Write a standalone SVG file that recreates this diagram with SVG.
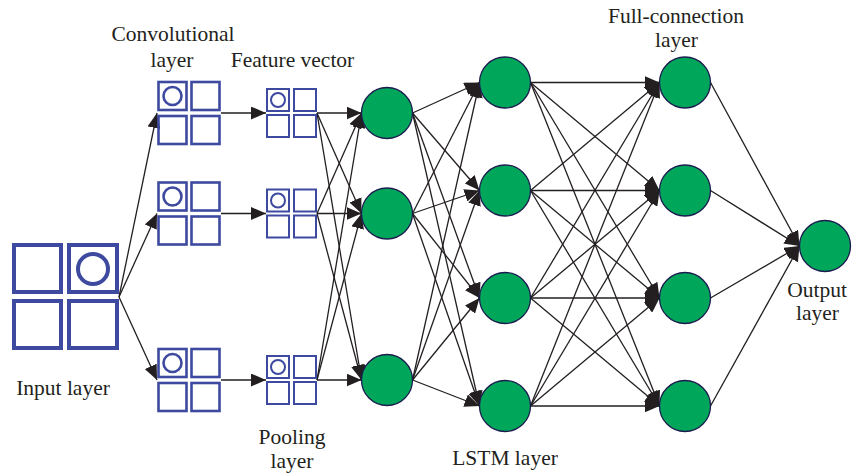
<svg xmlns="http://www.w3.org/2000/svg" width="852" height="475" viewBox="0 0 852 475">
<defs>
<style>
.cell{fill:none;stroke:#3d4a9f}
.big{stroke-width:4}
.conv{stroke-width:2.6}
.feat{stroke-width:2}
.node{fill:#00a75a;stroke:#1b1d4f;stroke-width:1.3}
.e{stroke:#231f20;stroke-width:1.3;fill:none;marker-end:url(#ah)}
.t{font-family:"Liberation Serif","Times New Roman",serif;font-size:21.5px;fill:#231f20;text-anchor:middle}
</style>
<marker id="ah" markerUnits="userSpaceOnUse" markerWidth="16" markerHeight="13" refX="15" refY="6.5" orient="auto">
<path d="M0,0 L15,6.5 L0,13 z" fill="#231f20"/>
</marker>
<g id="convcell">
<rect class="cell conv" x="-14.5" y="-31" width="28" height="28"/>
<rect class="cell conv" x="18.5" y="-31" width="28" height="28"/>
<rect class="cell conv" x="-14.5" y="3" width="28" height="28"/>
<rect class="cell conv" x="18.5" y="3" width="28" height="28"/>
<circle class="cell conv" cx="-0.5" cy="-17" r="9"/>
</g>
<g id="featcell">
<rect class="cell feat" x="0" y="-24" width="22" height="22"/>
<rect class="cell feat" x="27" y="-24" width="22" height="22"/>
<rect class="cell feat" x="0" y="2" width="22" height="22"/>
<rect class="cell feat" x="27" y="2" width="22" height="22"/>
<circle class="cell feat" cx="11" cy="-13" r="7"/>
</g>
</defs>
<rect width="852" height="475" fill="#ffffff"/>

<g id="connectors">
<line class="e" x1="119" y1="297" x2="157" y2="113"/>
<line class="e" x1="119" y1="297" x2="157" y2="213.5"/>
<line class="e" x1="119" y1="297" x2="157" y2="380"/>
<line class="e" x1="221" y1="113" x2="266" y2="113"/>
<line class="e" x1="221" y1="213.5" x2="266" y2="213.5"/>
<line class="e" x1="221" y1="380" x2="266" y2="380"/>
<line class="e" x1="317" y1="113" x2="361.5" y2="113"/>
<line class="e" x1="317" y1="113" x2="361.5" y2="213.5"/>
<line class="e" x1="317" y1="113" x2="361.5" y2="380"/>
<line class="e" x1="317" y1="213.5" x2="361.5" y2="113"/>
<line class="e" x1="317" y1="213.5" x2="361.5" y2="213.5"/>
<line class="e" x1="317" y1="213.5" x2="361.5" y2="380"/>
<line class="e" x1="317" y1="380" x2="361.5" y2="113"/>
<line class="e" x1="317" y1="380" x2="361.5" y2="213.5"/>
<line class="e" x1="317" y1="380" x2="361.5" y2="380"/>
<line class="e" x1="412.5" y1="113" x2="479.5" y2="82.5"/>
<line class="e" x1="412.5" y1="113" x2="479.5" y2="190.5"/>
<line class="e" x1="412.5" y1="113" x2="479.5" y2="298"/>
<line class="e" x1="412.5" y1="113" x2="479.5" y2="406"/>
<line class="e" x1="412.5" y1="213.5" x2="479.5" y2="82.5"/>
<line class="e" x1="412.5" y1="213.5" x2="479.5" y2="190.5"/>
<line class="e" x1="412.5" y1="213.5" x2="479.5" y2="298"/>
<line class="e" x1="412.5" y1="213.5" x2="479.5" y2="406"/>
<line class="e" x1="412.5" y1="380" x2="479.5" y2="82.5"/>
<line class="e" x1="412.5" y1="380" x2="479.5" y2="190.5"/>
<line class="e" x1="412.5" y1="380" x2="479.5" y2="298"/>
<line class="e" x1="412.5" y1="380" x2="479.5" y2="406"/>
<line class="e" x1="530.5" y1="82.5" x2="659.5" y2="82.5"/>
<line class="e" x1="530.5" y1="82.5" x2="659.5" y2="190.5"/>
<line class="e" x1="530.5" y1="82.5" x2="659.5" y2="298"/>
<line class="e" x1="530.5" y1="82.5" x2="659.5" y2="406"/>
<line class="e" x1="530.5" y1="190.5" x2="659.5" y2="82.5"/>
<line class="e" x1="530.5" y1="190.5" x2="659.5" y2="190.5"/>
<line class="e" x1="530.5" y1="190.5" x2="659.5" y2="298"/>
<line class="e" x1="530.5" y1="190.5" x2="659.5" y2="406"/>
<line class="e" x1="530.5" y1="298" x2="659.5" y2="82.5"/>
<line class="e" x1="530.5" y1="298" x2="659.5" y2="190.5"/>
<line class="e" x1="530.5" y1="298" x2="659.5" y2="298"/>
<line class="e" x1="530.5" y1="298" x2="659.5" y2="406"/>
<line class="e" x1="530.5" y1="406" x2="659.5" y2="82.5"/>
<line class="e" x1="530.5" y1="406" x2="659.5" y2="190.5"/>
<line class="e" x1="530.5" y1="406" x2="659.5" y2="298"/>
<line class="e" x1="530.5" y1="406" x2="659.5" y2="406"/>
<line class="e" x1="710.5" y1="82.5" x2="799.5" y2="246"/>
<line class="e" x1="710.5" y1="190.5" x2="799.5" y2="246"/>
<line class="e" x1="710.5" y1="298" x2="799.5" y2="246"/>
<line class="e" x1="710.5" y1="406" x2="799.5" y2="246"/>
</g>

<g id="input">
<rect class="cell big" x="14" y="245" width="47" height="47"/>
<rect class="cell big" x="69" y="245" width="48" height="47"/>
<rect class="cell big" x="14" y="301" width="47" height="47"/>
<rect class="cell big" x="69" y="301" width="48" height="47"/>
<circle class="cell big" cx="93" cy="269" r="15"/>
</g>

<g id="conv1"><use href="#convcell" x="173" y="113"/></g>
<g id="conv2"><use href="#convcell" x="173" y="213.5"/></g>
<g id="conv3"><use href="#convcell" x="173" y="380"/></g>

<g id="feat1"><use href="#featcell" x="267" y="113"/></g>
<g id="feat2"><use href="#featcell" x="267" y="213.5"/></g>
<g id="feat3"><use href="#featcell" x="267" y="380"/></g>

<g id="h1"><circle class="node" cx="387" cy="113" r="25.5"/></g>
<g id="h2"><circle class="node" cx="387" cy="213.5" r="25.5"/></g>
<g id="h3"><circle class="node" cx="387" cy="380" r="25.5"/></g>

<g id="lstm1"><circle class="node" cx="505" cy="82.5" r="25.5"/></g>
<g id="lstm2"><circle class="node" cx="505" cy="190.5" r="25.5"/></g>
<g id="lstm3"><circle class="node" cx="505" cy="298" r="25.5"/></g>
<g id="lstm4"><circle class="node" cx="505" cy="406" r="25.5"/></g>

<g id="fc1"><circle class="node" cx="685" cy="82.5" r="25.5"/></g>
<g id="fc2"><circle class="node" cx="685" cy="190.5" r="25.5"/></g>
<g id="fc3"><circle class="node" cx="685" cy="298" r="25.5"/></g>
<g id="fc4"><circle class="node" cx="685" cy="406" r="25.5"/></g>

<g id="out"><circle class="node" cx="825" cy="246" r="25.5"/></g>

<g id="labels">
<text class="t" x="173" y="41">Convolutional</text>
<text class="t" x="172" y="67">layer</text>
<text class="t" x="292.5" y="67">Feature vector</text>
<text class="t" x="63" y="395">Input layer</text>
<text class="t" x="292" y="444">Pooling</text>
<text class="t" x="292" y="468">layer</text>
<text class="t" x="505" y="465">LSTM layer</text>
<text class="t" x="676" y="23">Full-connection</text>
<text class="t" x="676.5" y="47">layer</text>
<text class="t" x="817" y="297">Output</text>
<text class="t" x="817.5" y="320">layer</text>
</g>
</svg>
